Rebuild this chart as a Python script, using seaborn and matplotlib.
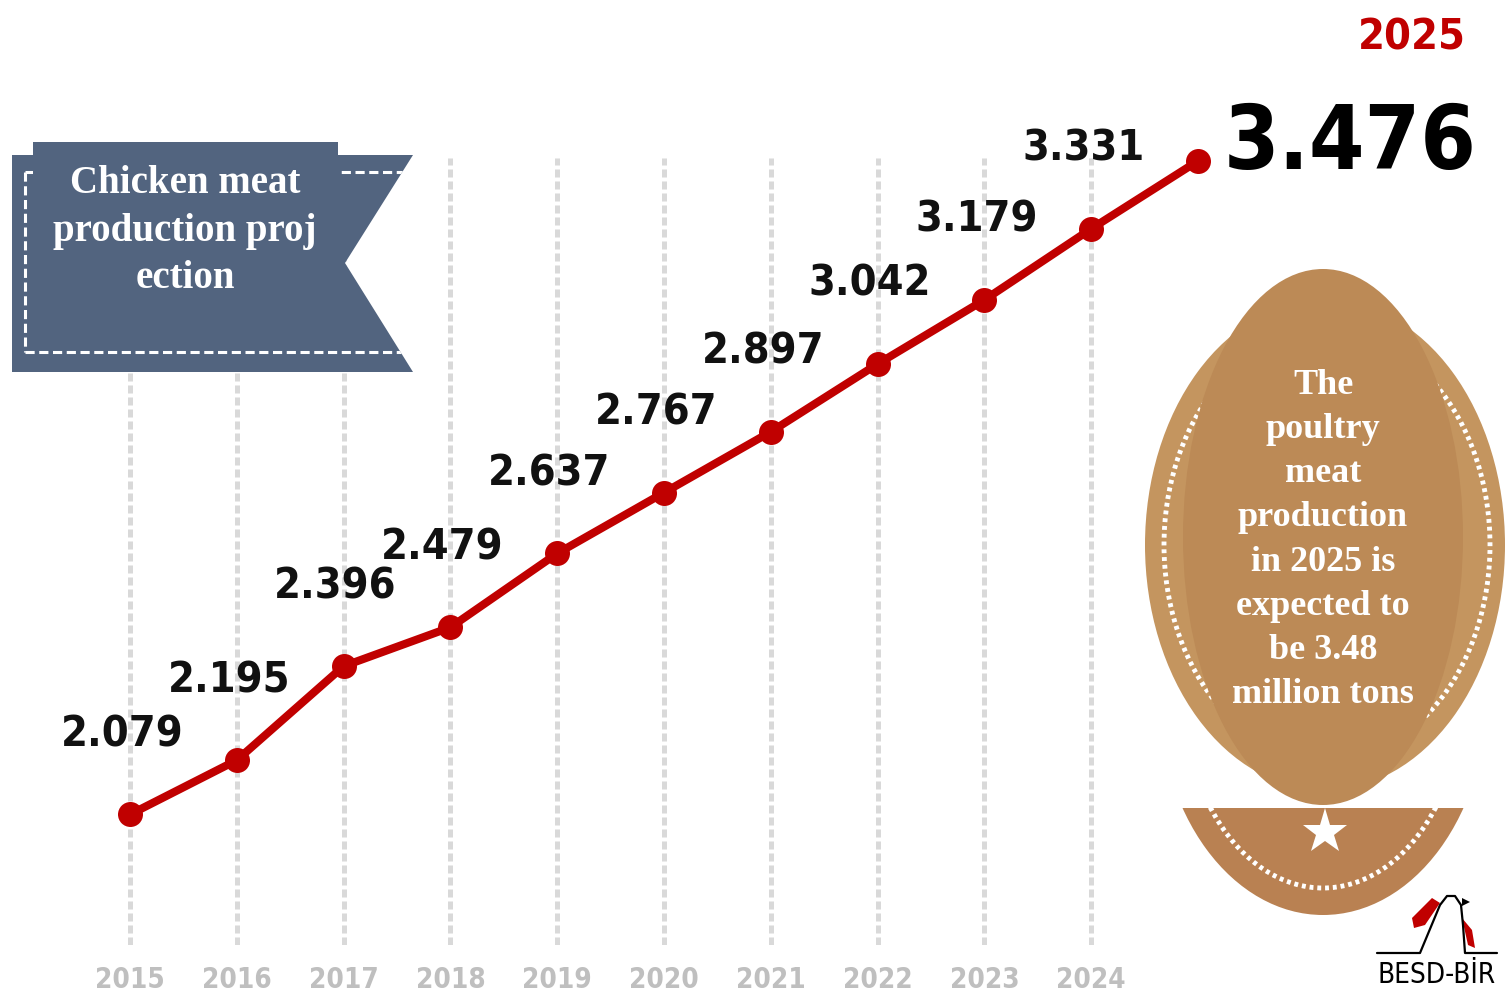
import numpy as np
import pandas as pd
import seaborn as sns
import matplotlib.pyplot as plt
from matplotlib.patches import Polygon, Rectangle, Ellipse

# data
years = [2015, 2016, 2017, 2018, 2019, 2020, 2021, 2022, 2023, 2024, 2025]
values = [2.079, 2.195, 2.396, 2.479, 2.637, 2.767, 2.897, 3.042, 3.179, 3.331, 3.476]
tick_years = years[:-1]
tick_labels = [str(y) for y in tick_years]
banner_text = "Chicken meat\nproduction proj\nection"
medal_text = "The\npoultry\nmeat\nproduction\nin 2025 is\nexpected to\nbe 3.48\nmillion tons"
logo_text = "BESD-BİR"

RED = '#c00000'
NAVY = '#52647f'

sns.set_style("white")
plt.rcParams['font.family'] = ['DejaVu Sans']
COND = dict(family='DejaVu Sans', fontstretch='condensed')

fig = plt.figure(figsize=(15.05, 10), dpi=100)
ax = fig.add_axes([0, 0.055, 1, 0.945])

df = pd.DataFrame({'year': years, 'value': values})

# dashed guide lines
for yr in tick_years:
    ax.axvline(yr, ymin=0, ymax=0.833, color='#d9d9d9', lw=3.6,
               ls=(0, (1.6, 0.8)), zorder=1)

sns.lineplot(data=df, x='year', y='value', ax=ax, color=RED, lw=5.8,
             marker='o', markersize=18, markeredgewidth=0, zorder=5)

# value labels (last one is the big callout)
for yr, v in zip(years[:-1], values[:-1]):
    ax.annotate(f"{v:.3f}", (yr, v), xytext=(-8, 80), textcoords='offset pixels',
                ha='center', va='center', fontsize=31, fontweight='bold',
                color='#111111', **COND)

ax.set_xlim(2013.783, 2027.874)
ax.set_ylim(1.80, 3.82)
ax.set_xticks(tick_years)
ax.set_xticklabels(tick_labels, fontsize=20, fontweight='bold', color='#bfbfbf', **COND)
ax.tick_params(axis='x', length=0, pad=15)
ax.set_yticks([])
ax.set_xlabel('')
ax.set_ylabel('')
sns.despine(ax=ax, left=True, bottom=True)

# overlay in pixel coordinates for decorations
ov = fig.add_axes([0, 0, 1, 1], zorder=10)
ov.set_xlim(0, 1505)
ov.set_ylim(1000, 0)
ov.axis('off')
ov.patch.set_alpha(0)

# banner
body = Polygon([(12, 155), (413, 155), (345, 263), (413, 372), (12, 372)],
               closed=True, fc=NAVY, ec='none', zorder=1)
ov.add_patch(body)
for xs, ys in [([25, 410], [172, 172]), ([25, 25], [172, 352]), ([25, 410], [352, 352])]:
    ln, = ov.plot(xs, ys, color='white', lw=2.2, ls=(0, (3, 1.5)), zorder=2)
    ln.set_clip_path(body)
ov.add_patch(Rectangle((33, 142), 305, 40, fc=NAVY, ec='none', zorder=3))
ov.text(185, 231, banner_text, ha='center', va='center', color='white',
        fontsize=28, fontweight='bold', family='Liberation Serif', linespacing=1.37,
        zorder=4)

# big callout for 2025
ov.text(1412, 37, "2025", ha='center', va='center', color=RED,
        fontsize=31, fontweight='bold', **COND)
ov.text(1350, 145, f"{values[-1]:.3f}", ha='center', va='center', color='black',
        fontsize=64, fontweight='bold', **COND)

# medallion
BACK = '#c4955f'
FRONT = '#bc8a56'
LOW = '#b98152'
ov.add_patch(Ellipse((1325, 545), 360, 490, fc=BACK, ec='none'))
ov.add_patch(Ellipse((1327, 545), 326, 430, fc='none', ec='white', lw=3.5,
                     ls=(0, (0.8, 0.8))))
ov.add_patch(Ellipse((1323, 537), 280, 536, fc=FRONT, ec='none'))
clip = Rectangle((1100, 808), 400, 150, transform=ov.transData)
low = Ellipse((1323, 690), 330, 450, fc=LOW, ec='none')
ov.add_patch(low)
low.set_clip_path(clip)
lowring = Ellipse((1323, 690), 280, 396, fc='none', ec='white', lw=3.5,
                  ls=(0, (0.8, 0.8)))
ov.add_patch(lowring)
lowring.set_clip_path(clip)
ov.plot([1325], [832], marker='*', color='white', markersize=34, markeredgewidth=0)
ov.text(1323, 540, medal_text, ha='center', va='center', color='white',
        fontsize=26, fontweight='bold', family='Liberation Serif', linespacing=1.45)

# logo
ov.add_patch(Polygon([(1412, 918), (1432, 898), (1440, 903), (1425, 925), (1414, 928)],
                     closed=True, fc=RED, ec='none'))
ov.add_patch(Polygon([(1462, 918), (1472, 930), (1475, 948), (1468, 945)],
                     closed=True, fc=RED, ec='none'))
ov.plot([1377, 1420, 1440, 1447, 1455, 1461, 1463, 1465, 1497],
        [953, 953, 905, 896, 896, 905, 925, 953, 953], color='black', lw=1.6)
ov.add_patch(Polygon([(1462, 898), (1470, 902), (1462, 906)], closed=True,
                     fc='black', ec='none'))
ov.text(1437, 975, logo_text, ha='center', va='center', color='black',
        fontsize=20, **COND)

fig.savefig('out.png', dpi=100, facecolor='white')
